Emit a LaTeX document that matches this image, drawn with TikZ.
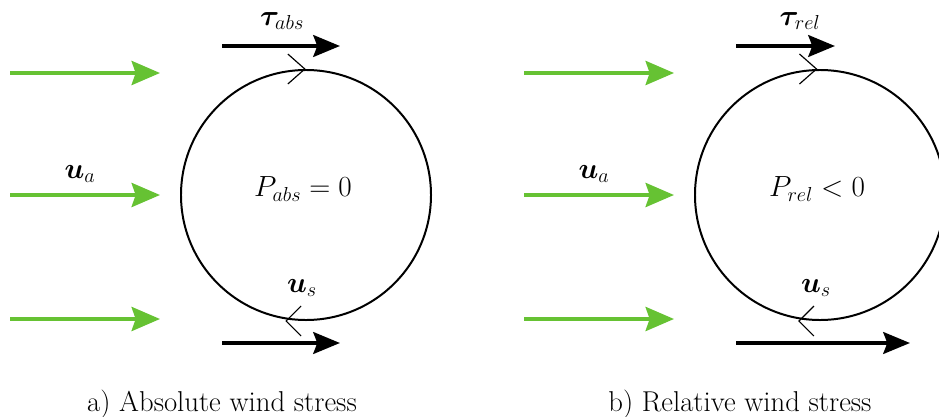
\documentclass[tikz,border=0pt]{standalone}
\usepackage{amsmath,amssymb,bm}
\usepackage{tikz}
\usetikzlibrary{arrows.meta}
\definecolor{windgreen}{HTML}{66C233}

\begin{document}
\begin{tikzpicture}[x=0.03cm,y=-0.03cm,font=\fontsize{24.5}{29}\selectfont,
  wind/.style={windgreen,line width=3.4pt,-{Stealth[length=8.5mm,width=7.2mm,inset=1.2mm]}},
  stress/.style={black,line width=3.4pt,-{Stealth[length=8mm,width=6.5mm,inset=1.2mm]}},
  drop/.style={draw,circle,line width=1.7pt,minimum size=7.5cm,inner sep=0pt},
  chev/.style={line width=1pt}]
  \useasboundingbox (0,0) rectangle (939,417);
  \clip (0,0) rectangle (939,417);
  % a) absolute wind stress
  \node[drop] (l) at (306,195) {};
  \node at (303,189) {$P_{abs}=0$};
  \foreach \y/\n in {73/1,195/2,319/3}{
    \coordinate (la\n) at (10,\y);
    \coordinate (lb\n) at (160,\y);
    \draw[wind] (la\n) -- (lb\n);
  }
  \node at (80,174) {$\bm{u}_a$};
  \coordinate (lt0) at (222,46); \coordinate (lt1) at (340,46);
  \draw[stress] (lt0) -- (lt1);
  \node at (282,21) {$\bm{\tau}_{abs}$};
  \coordinate (ls0) at (222,343); \coordinate (ls1) at (340,343);
  \draw[stress] (ls0) -- (ls1);
  \node at (302,288) {$\bm{u}_s$};
  \draw[chev] ([xshift=-1]l.north) ++(-17,-15) -- ++(17,15) -- ++(-17,15);
  \draw[chev] ([xshift=-17]l.south) ++(15,-15) -- ++(-15,15) -- ++(15,15);
  \node at (222,404) {a) Absolute wind stress};
  % b) relative wind stress
  \node[drop] (r) at (820,195) {};
  \node at (817,189) {$P_{rel}<0$};
  \foreach \y/\n in {73/1,195/2,319/3}{
    \coordinate (ra\n) at (524,\y);
    \coordinate (rb\n) at (674,\y);
    \draw[wind] (ra\n) -- (rb\n);
  }
  \node at (594,174) {$\bm{u}_a$};
  \coordinate (rt0) at (736,46); \coordinate (rt1) at (835,46);
  \draw[stress] (rt0) -- (rt1);
  \node at (800,21) {$\bm{\tau}_{rel}$};
  \coordinate (rs0) at (736,343); \coordinate (rs1) at (910,343);
  \draw[stress] (rs0) -- (rs1);
  \node at (816,288) {$\bm{u}_s$};
  \draw[chev] ([xshift=-3]r.north) ++(-17,-15) -- ++(17,15) -- ++(-17,15);
  \draw[chev] ([xshift=-18]r.south) ++(15,-15) -- ++(-15,15) -- ++(15,15);
  \node at (740,404) {b) Relative wind stress};
\end{tikzpicture}
\end{document}
